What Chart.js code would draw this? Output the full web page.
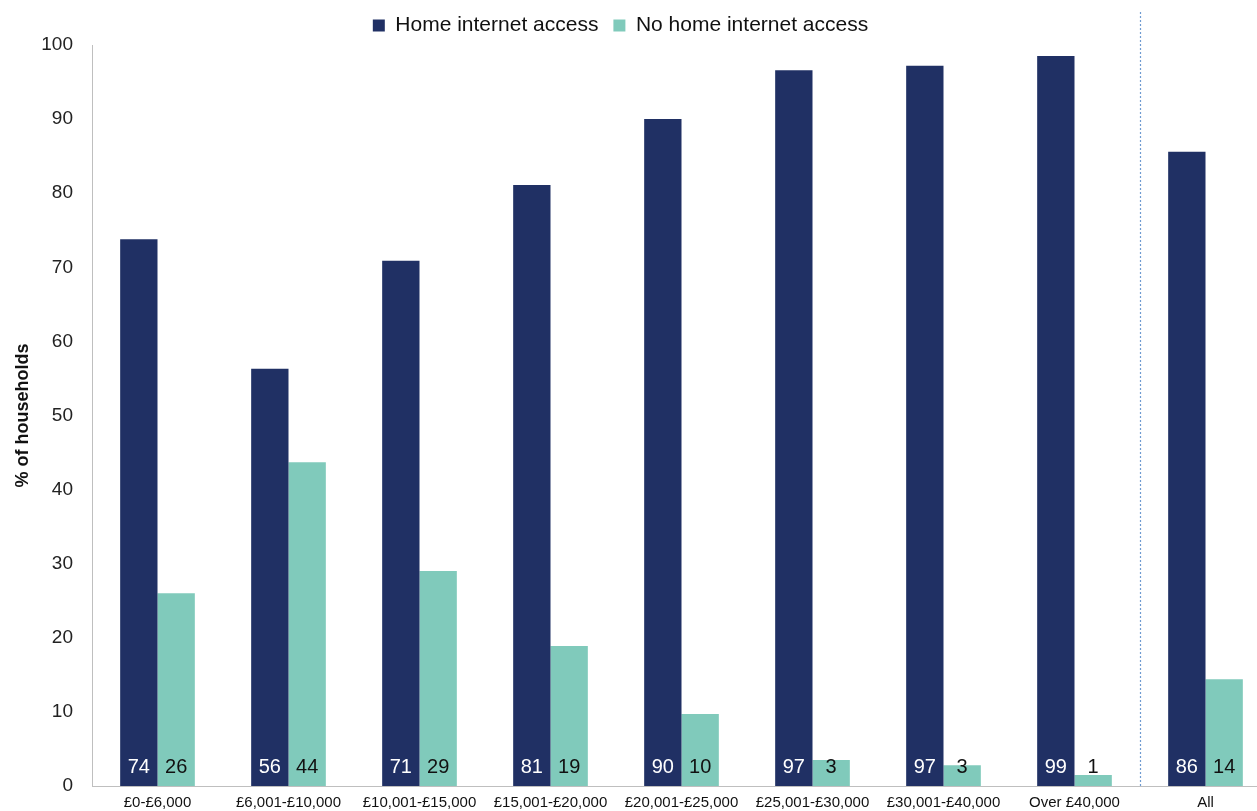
<!DOCTYPE html>
<html>
<head>
<meta charset="utf-8">
<script src="https://cdn.jsdelivr.net/npm/chart.js@4"></script>
<style>
    html, body { margin: 0; padding: 0; background: #fff; }
    #wrap { width: 1257px; height: 811px; overflow: hidden; }
    #inner { width: 1271px; height: 811px; position: relative; }
</style>
</head>
<body>
<div id="wrap"><div id="inner"><canvas id="chart"></canvas></div></div>
<script>
// Income bands and the two shares (percent of households)
const bands = ['£0-£6,000', '£6,001-£10,000', '£10,001-£15,000', '£15,001-£20,000',
    '£20,001-£25,000', '£25,001-£30,000', '£30,001-£40,000', 'Over £40,000', 'All'];
const homeAccess = [73.8, 56.3, 70.9, 81.1, 90.0, 96.6, 97.2, 98.5, 85.6];
const noHomeAccess = [26.0, 43.7, 29.0, 18.9, 9.7, 3.5, 2.8, 1.5, 14.4];
const homeLabels = ['74', '56', '71', '81', '90', '97', '97', '99', '86'];
const noHomeLabels = ['26', '44', '29', '19', '10', '3', '3', '1', '14'];
const yTicks = [0, 10, 20, 30, 40, 50, 60, 70, 80, 90, 100];

const FONT = "'Liberation Sans', Arial, sans-serif";
const DARK = '#203064';
const LIGHT = '#80cabb';

// fix legend block height so the plot starts at the right spot,
// and nudge the legend a little left of centre
const legendTweak = {
    id: 'legendTweak',
    beforeInit(chart) {
        const fit = chart.legend.fit;
        chart.legend.fit = function () {
            fit.bind(chart.legend)();
            this.height = 45;
        };
    },
    afterLayout(chart) {
        chart.legend.right -= 30;
    }
};

// values written at the foot of each bar
const barLabels = {
    id: 'barLabels',
    afterDatasetsDraw(chart) {
        const ctx = chart.ctx;
        const y = chart.scales.y.getPixelForValue(0) - 19;
        ctx.save();
        ctx.font = '20px ' + FONT;
        ctx.textAlign = 'center';
        ctx.textBaseline = 'middle';
        [homeLabels, noHomeLabels].forEach((labels, di) => {
            const meta = chart.getDatasetMeta(di);
            ctx.fillStyle = di === 0 ? '#ffffff' : '#111111';
            meta.data.forEach((bar, i) => ctx.fillText(labels[i], bar.x, y));
        });
        ctx.restore();
    }
};

// dotted divider before the "All" group
const divider = {
    id: 'divider',
    afterDraw(chart) {
        const xs = chart.scales.x;
        const x = Math.round((xs.getPixelForValue(7) + xs.getPixelForValue(8)) / 2) + 0.5;
        const ctx = chart.ctx;
        ctx.save();
        ctx.strokeStyle = '#6f9bd1';
        ctx.lineWidth = 1.2;
        ctx.setLineDash([2, 2]);
        ctx.beginPath();
        ctx.moveTo(x, 12);
        ctx.lineTo(x, chart.chartArea.bottom);
        ctx.stroke();
        ctx.restore();
    }
};

new Chart(document.getElementById('chart'), {
    type: 'bar',
    data: {
        labels: bands,
        datasets: [
            { label: 'Home internet access', data: homeAccess, backgroundColor: DARK },
            { label: 'No home internet access', data: noHomeAccess, backgroundColor: LIGHT }
        ]
    },
    options: {
        responsive: true,
        maintainAspectRatio: false,
        animation: false,
        layout: { padding: 0 },
        datasets: { bar: { categoryPercentage: 0.57, barPercentage: 1.0 } },
        plugins: {
            tooltip: { enabled: false },
            legend: {
                position: 'top',
                labels: {
                    font: { family: FONT, size: 21 },
                    color: '#111',
                    boxWidth: 12,
                    boxHeight: 12,
                    padding: 15
                }
            }
        },
        scales: {
            x: {
                grid: { display: false, drawTicks: false },
                border: { color: '#bfbfbf', width: 1 },
                ticks: { font: { family: FONT, size: 15 }, color: '#111', padding: 8, maxRotation: 0, autoSkip: false },
                afterFit(scale) { scale.height = 25; }
            },
            y: {
                min: 0,
                max: 100,
                afterBuildTicks(scale) { scale.ticks = yTicks.map(v => ({ value: v })); },
                grid: { display: false, drawTicks: false },
                border: { color: '#bfbfbf', width: 1 },
                ticks: { font: { family: FONT, size: 19 }, color: '#222', padding: 19 },
                title: {
                    display: true,
                    text: '% of households',
                    font: { family: FONT, size: 18, weight: 'bold' },
                    color: '#111',
                    padding: { top: 12, bottom: 0 }
                },
                afterFit(scale) {
                    scale.width = 92;
                    // tick labels may spill over the plot edges
                    scale.paddingTop = 0;
                    scale.paddingBottom = 0;
                }
            }
        }
    },
    plugins: [legendTweak, barLabels, divider]
});
</script>
</body>
</html>
